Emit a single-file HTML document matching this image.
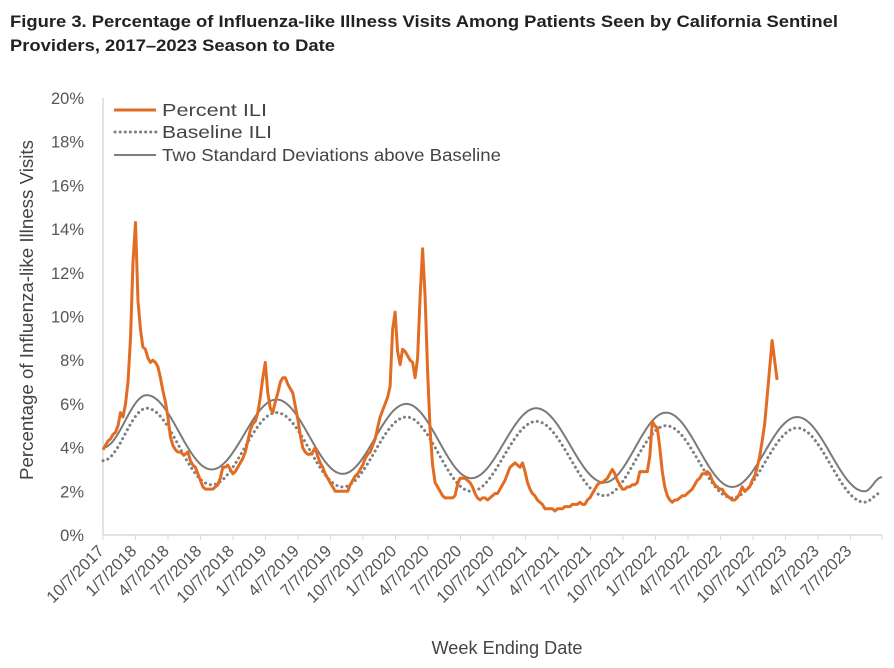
<!DOCTYPE html>
<html><head><meta charset="utf-8"><style>
html,body{margin:0;padding:0;background:#fff;}
svg{display:block;font-family:"Liberation Sans",sans-serif;}
</style></head><body>
<svg id="chart" width="894" height="668" viewBox="0 0 894 668">
<text x="10" y="27" font-size="16.5" font-weight="bold" fill="#222" textLength="828" lengthAdjust="spacingAndGlyphs">Figure 3. Percentage of Influenza-like Illness Visits Among Patients Seen by California Sentinel</text>
<text x="10" y="51" font-size="16.5" font-weight="bold" fill="#222" textLength="325" lengthAdjust="spacingAndGlyphs">Providers, 2017–2023 Season to Date</text>
<g id="yaxis"></g>
<g id="xaxis"></g>
<g id="series"></g>
<text transform="translate(33,310) rotate(-90)" text-anchor="middle" font-size="18" fill="#444" textLength="340" lengthAdjust="spacingAndGlyphs">Percentage of Influenza-like Illness Visits</text>
<text x="507" y="654" text-anchor="middle" font-size="18" fill="#444" textLength="151" lengthAdjust="spacingAndGlyphs">Week Ending Date</text>
<g>
<g><line x1="114" y1="110" x2="156" y2="110" stroke="#e36c23" stroke-width="3"/><text x="162" y="116" font-size="17.5" fill="#444" textLength="105" lengthAdjust="spacingAndGlyphs">Percent ILI</text></g>
<g><line x1="115" y1="132" x2="156" y2="132" stroke="#7f7f7f" stroke-width="3" stroke-dasharray="0.1 5" stroke-linecap="round"/><text x="162" y="138" font-size="17.5" fill="#444" textLength="110" lengthAdjust="spacingAndGlyphs">Baseline ILI</text></g>
<g><line x1="114" y1="155" x2="156" y2="155" stroke="#7f7f7f" stroke-width="2"/><text x="162" y="161" font-size="17.5" fill="#444" textLength="339" lengthAdjust="spacingAndGlyphs">Two Standard Deviations above Baseline</text></g>
</g>
</svg>
<script>
const yTicks = [0,2,4,6,8,10,12,14,16,18,20];
const xTickLabels = ["10/7/2017","1/7/2018","4/7/2018","7/7/2018","10/7/2018","1/7/2019","4/7/2019","7/7/2019","10/7/2019","1/7/2020","4/7/2020","7/7/2020","10/7/2020","1/7/2021","4/7/2021","7/7/2021","10/7/2021","1/7/2022","4/7/2022","7/7/2022","10/7/2022","1/7/2023","4/7/2023","7/7/2023"];
const percentILI = [3.9,4.1,4.3,4.4,4.6,4.7,5.0,5.6,5.4,6.0,7.0,9.0,12.5,14.3,10.7,9.4,8.6,8.5,8.1,7.9,
8.0,7.9,7.7,7.2,6.6,6.1,5.4,4.5,4.1,3.9,3.8,3.8,3.7,3.7,3.8,3.4,3.2,3.1,2.8,2.5,
2.2,2.1,2.1,2.1,2.1,2.2,2.3,2.6,3.1,3.1,3.2,3.0,2.8,2.9,3.1,3.3,3.5,3.8,4.3,4.8,
5.1,5.2,5.6,6.3,7.2,7.9,6.5,5.8,5.6,6.1,6.5,7.0,7.2,7.2,6.9,6.7,6.5,5.9,5.3,4.6,
4.0,3.8,3.7,3.7,3.8,4.0,3.6,3.3,3.1,2.8,2.6,2.4,2.2,2.0,2.0,2.0,2.0,2.0,2.0,2.3,
2.5,2.7,2.8,3.0,3.2,3.5,3.7,3.8,4.1,4.4,4.9,5.4,5.7,6.0,6.3,6.8,9.4,10.2,8.4,7.8,
8.5,8.4,8.2,8.0,7.9,7.2,8.1,10.9,13.1,10.9,7.5,4.8,3.2,2.4,2.2,2.0,1.8,1.7,1.7,1.7,
1.7,1.8,2.3,2.6,2.6,2.6,2.5,2.4,2.2,1.9,1.7,1.6,1.7,1.7,1.6,1.7,1.8,1.9,1.9,2.1,
2.3,2.5,2.8,3.1,3.2,3.3,3.2,3.1,3.3,2.9,2.4,2.1,1.9,1.8,1.6,1.5,1.4,1.2,1.2,1.2,
1.2,1.1,1.2,1.2,1.2,1.3,1.3,1.3,1.4,1.4,1.4,1.5,1.4,1.4,1.6,1.7,1.9,2.1,2.3,2.4,
2.4,2.5,2.6,2.8,3.0,2.8,2.5,2.3,2.1,2.1,2.2,2.2,2.3,2.3,2.4,2.9,2.9,2.9,2.9,3.6,
5.2,5.0,4.9,4.0,2.9,2.2,1.8,1.6,1.5,1.6,1.6,1.7,1.8,1.8,1.9,2.0,2.1,2.3,2.5,2.6,
2.8,2.8,2.9,2.8,2.5,2.3,2.2,2.1,2.1,1.9,1.8,1.7,1.6,1.6,1.7,1.9,2.2,2.0,2.1,2.2,
2.5,2.7,3.1,3.6,4.3,5.1,6.3,7.6,8.9,8.0,7.1];
// smooth seasonal curves: values at successive peaks/troughs (week index)
const sdWeeks = [0,17.5,43.5,69.5,96,121.5,147.5,173.5,200.8,225.5,252,278,305,312];
const sdValues = [4.0,6.4,3.0,6.2,2.8,6.0,2.6,5.8,2.4,5.6,2.2,5.4,2.0,2.65];
const baseWeeks = [0,17.5,43.5,69.5,96,121.5,147.5,173.5,200.8,225.5,252,278,305,312];
const baseValues = [3.4,5.8,2.3,5.6,2.2,5.4,2.0,5.2,1.8,5.0,1.7,4.9,1.5,1.95];

const X0=103, X1=882, Y0=535, YTOP=98, WEEKS=312;
const xScale = w => X0 + w*(X1-X0)/WEEKS;
const yScale = v => Y0 - v*(Y0-YTOP)/20;
const NS="http://www.w3.org/2000/svg";
function mk(tag, attrs, parent){const e=document.createElementNS(NS,tag);for(const k in attrs)e.setAttribute(k,attrs[k]);parent.appendChild(e);return e;}

const ya=document.getElementById('yaxis');
mk('line',{x1:X0,y1:YTOP,x2:X0,y2:Y0,stroke:'#d9d9d9','stroke-width':1.5},ya);
yTicks.forEach(t=>{
  const el=mk('text',{x:84,y:yScale(t)+6,'text-anchor':'end','font-size':16.5,fill:'#555'},ya);
  el.textContent=t+'%';
  
  
});
const xa=document.getElementById('xaxis');
mk('line',{x1:X0,y1:Y0,x2:X1,y2:Y0,stroke:'#d9d9d9','stroke-width':1.5},xa);
xTickLabels.forEach((lab,i)=>{
  const x=X0+i*32.5;
  mk('line',{x1:x,y1:Y0,x2:x,y2:Y0+5,stroke:'#d9d9d9','stroke-width':1},xa);
  const el=mk('text',{transform:`translate(${x+2},${Y0+17}) rotate(-45)`,'text-anchor':'end','font-size':16.5,fill:'#555'},xa);
  el.textContent=lab;
  
  
});
mk('line',{x1:X1,y1:Y0,x2:X1,y2:Y0+5,stroke:'#d9d9d9'},xa);

function smoothPath(ws, vs){
  let d='';
  for(let i=0;i<ws.length-1;i++){
    const w0=ws[i],w1=ws[i+1],v0=vs[i],v1=vs[i+1];
    for(let w=Math.ceil(w0*2)/2; w<=w1; w+=0.5){
      const t=(w-w0)/(w1-w0);
      const v=v0+(v1-v0)*(1-Math.cos(Math.PI*t))/2;
      d+=(d?'L':'M')+xScale(w).toFixed(1)+','+yScale(v).toFixed(1);
    }
  }
  return d;
}
const sg=document.getElementById('series');
const base=mk('path',{d:smoothPath(baseWeeks,baseValues),fill:'none',stroke:'#7f7f7f','stroke-width':3,'stroke-dasharray':'0.1 5','stroke-linecap':'round'},sg);


const sd=mk('path',{d:smoothPath(sdWeeks,sdValues),fill:'none',stroke:'#7a7a7a','stroke-width':2},sg);


const ili=mk('path',{d:percentILI.map((v,i)=>(i?'L':'M')+xScale(i).toFixed(1)+','+yScale(v).toFixed(1)).join(''),fill:'none',stroke:'#e36c23','stroke-width':3,'stroke-linejoin':'round'},sg);


</script>
</body></html>
